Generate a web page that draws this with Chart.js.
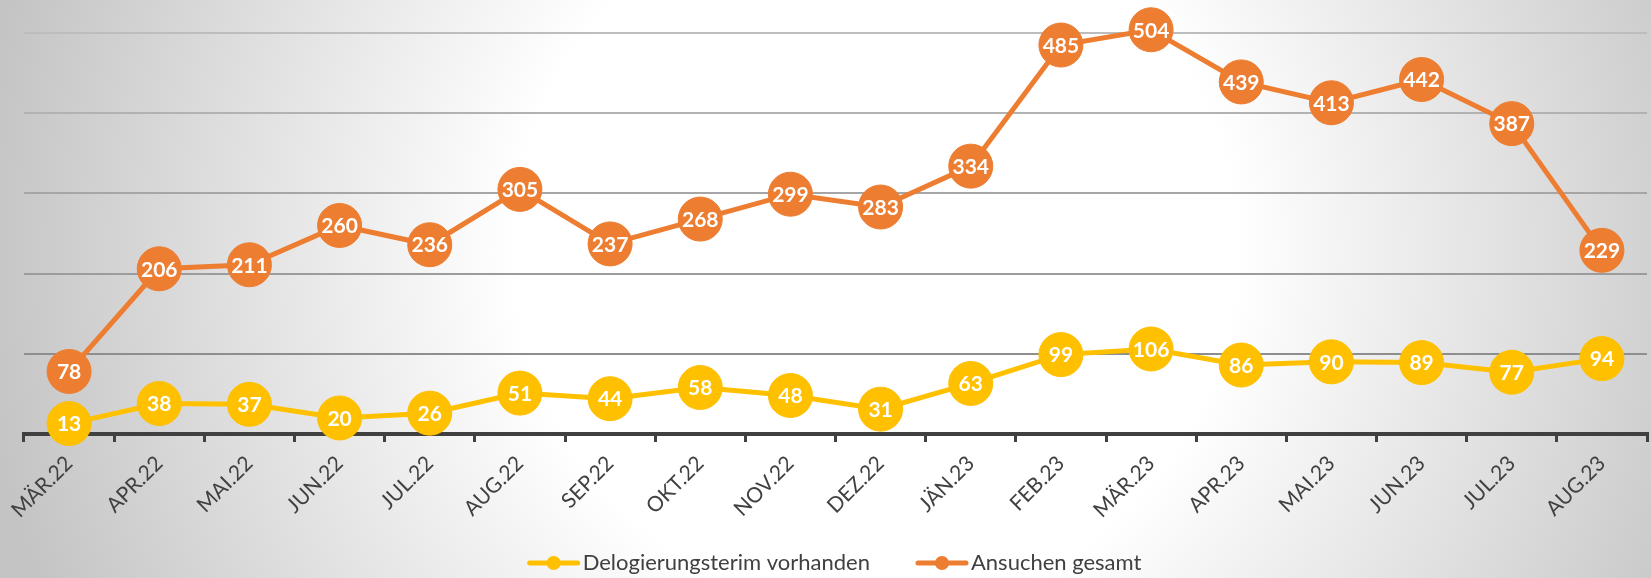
<!DOCTYPE html>
<html>
<head>
<meta charset="utf-8">
<title>Delogierungen</title>
<script src="https://cdn.jsdelivr.net/npm/chart.js@4/dist/chart.umd.min.js"></script>
<style>
  html, body { margin: 0; padding: 0; overflow: hidden; background: #fff; }
  #wrap { width: 1651px; height: 578px; position: relative; }
</style>
</head>
<body>
<div id="wrap"><canvas id="chart" width="1651" height="578"></canvas></div>
<script>
const months = ['MÄR.22', 'APR.22', 'MAI.22', 'JUN.22', 'JUL.22', 'AUG.22', 'SEP.22', 'OKT.22', 'NOV.22',
  'DEZ.22', 'JÄN.23', 'FEB.23', 'MÄR.23', 'APR.23', 'MAI.23', 'JUN.23', 'JUL.23', 'AUG.23'];
const delogierung = [13, 38, 37, 20, 26, 51, 44, 58, 48, 31, 63, 99, 106, 86, 90, 89, 77, 94];
const ansuchen = [78, 206, 211, 260, 236, 305, 237, 268, 299, 283, 334, 485, 504, 439, 413, 442, 387, 229];
const seriesNames = ['Delogierungsterim vorhanden', 'Ansuchen gesamt'];
const yMax = 500;
const yStep = 100;

const YELLOW = '#FFC000';
const ORANGE = '#ED7D31';
const TEXT = '#404040';

// big markers would otherwise push the plot in from the right edge
Chart.LineController.prototype.getMaxOverflow = function () { return 0; };

// grey radial backdrop, white in the middle
const backdrop = {
  id: 'backdrop',
  beforeDraw(chart) {
    const ctx = chart.ctx;
    const g = ctx.createRadialGradient(875, 250, 0, 875, 250, 900);
    g.addColorStop(0, '#ffffff');
    g.addColorStop(0.4, '#ffffff');
    g.addColorStop(1, '#c4c4c4');
    ctx.save();
    ctx.fillStyle = g;
    ctx.fillRect(0, 0, chart.width, chart.height);
    ctx.restore();
  }
};

// white numbers inside the markers
const valueLabels = {
  id: 'valueLabels',
  afterDatasetsDraw(chart) {
    const ctx = chart.ctx;
    ctx.save();
    ctx.fillStyle = '#ffffff';
    ctx.font = 'bold 21px Lato';
    ctx.textAlign = 'center';
    ctx.textBaseline = 'middle';
    chart.data.datasets.forEach((ds, i) => {
      chart.getDatasetMeta(i).data.forEach((pt, j) => {
        ctx.fillText(String(ds.data[j]), pt.x, pt.y + 1);
      });
    });
    ctx.restore();
  }
};

// legend: line sample with dot, text right after it
const lineLegend = {
  id: 'lineLegend',
  afterDraw(chart) {
    const ctx = chart.ctx;
    const cy = 563;
    const sample = 54;
    const gap = 45;
    ctx.save();
    ctx.font = '22px Lato';
    const widths = chart.data.datasets.map(ds => ctx.measureText(ds.label).width);
    const total = widths.reduce((a, w) => a + sample + 2 + w, 0) + gap;
    let x = 834 - total / 2;
    chart.data.datasets.forEach((ds, i) => {
      ctx.strokeStyle = ds.borderColor;
      ctx.lineWidth = 5;
      ctx.lineCap = 'round';
      ctx.beginPath();
      ctx.moveTo(x + 3, cy);
      ctx.lineTo(x + sample - 3, cy);
      ctx.stroke();
      ctx.fillStyle = ds.borderColor;
      ctx.beginPath();
      ctx.arc(x + sample / 2, cy, 7, 0, Math.PI * 2);
      ctx.fill();
      ctx.fillStyle = TEXT;
      ctx.textBaseline = 'middle';
      ctx.textAlign = 'left';
      ctx.fillText(ds.label, x + sample + 2, cy);
      x += sample + 2 + widths[i] + gap;
    });
    ctx.restore();
  }
};

const gridShade = { 100: '#8e8e8e', 200: '#9c9c9c', 300: '#a6a6a6', 400: '#b2b2b2', 500: '#bdbdbd' };

new Chart(document.getElementById('chart'), {
  type: 'line',
  data: {
    labels: months,
    datasets: [
      {
        label: seriesNames[0],
        data: delogierung,
        borderColor: YELLOW,
        backgroundColor: YELLOW,
        pointBackgroundColor: YELLOW,
        pointBorderColor: YELLOW,
        borderWidth: 5,
        pointRadius: 22,
        pointBorderWidth: 1,
        tension: 0,
        clip: false
      },
      {
        label: seriesNames[1],
        data: ansuchen,
        borderColor: ORANGE,
        backgroundColor: ORANGE,
        pointBackgroundColor: ORANGE,
        pointBorderColor: ORANGE,
        borderWidth: 5,
        pointRadius: 22,
        pointBorderWidth: 1,
        tension: 0,
        clip: false
      }
    ]
  },
  options: {
    responsive: false,
    animation: false,
    layout: { padding: { left: 24, right: 4, top: 33, bottom: 0 } },
    plugins: {
      legend: { display: false },
      tooltip: { enabled: false }
    },
    scales: {
      x: {
        offset: true,
        grid: {
          offset: true,
          drawOnChartArea: false,
          drawTicks: true,
          tickLength: 8,
          color: TEXT,
          lineWidth: 3
        },
        border: { display: true, color: TEXT, width: 4 },
        ticks: {
          autoSkip: false,
          maxRotation: 45,
          minRotation: 45,
          padding: 9,
          color: TEXT,
          font: { family: 'Lato', size: 21 }
        },
        afterFit(scale) {
          scale.height = 144;
          scale.paddingLeft = 0;
          scale.paddingRight = 0;
        }
      },
      y: {
        min: 0,
        max: yMax,
        ticks: { display: false, stepSize: yStep },
        border: { display: false },
        grid: {
          drawTicks: false,
          lineWidth: 2,
          color: ctx => ctx.tick && ctx.tick.value > 0 ? gridShade[ctx.tick.value] : 'rgba(0,0,0,0)'
        }
      }
    }
  },
  plugins: [backdrop, valueLabels, lineLegend]
});
</script>
</body>
</html>
